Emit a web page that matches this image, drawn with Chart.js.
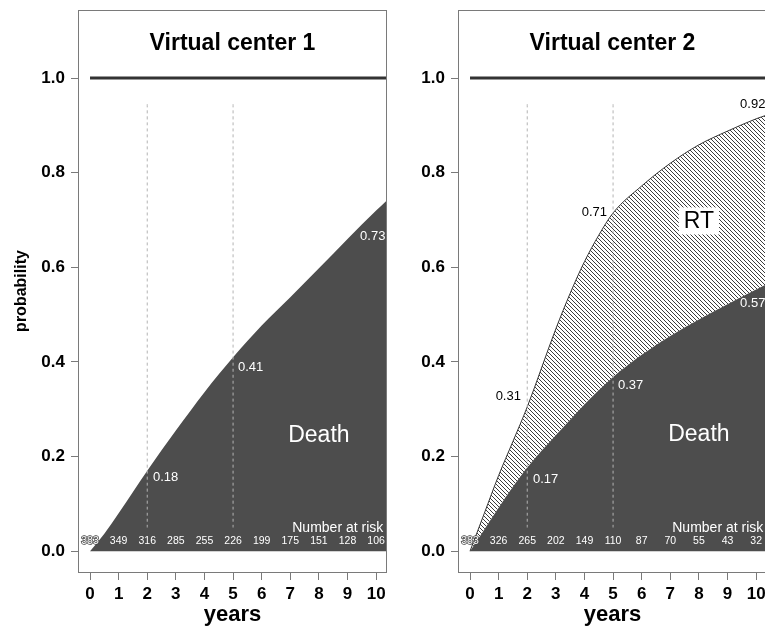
<!DOCTYPE html>
<html>
<head>
<meta charset="utf-8">
<script src="https://cdn.jsdelivr.net/npm/chart.js@4/dist/chart.umd.min.js"></script>
<style>
  html, body { margin: 0; padding: 0; background: #fff; overflow: hidden; width: 765px; height: 631px; }
  #c1 { position: absolute; left: 0; top: 0; }
  #c2 { position: absolute; left: 380px; top: 0; }
</style>
</head>
<body>
<canvas id="c1" width="390" height="631"></canvas>
<canvas id="c2" width="390" height="631"></canvas>
<script>
// ---------- data ----------
const years = [0, 0.5, 1, 1.5, 2, 3, 3.5, 4, 4.5, 5, 6, 7, 8, 9, 10, 10.38];
const center1Death = [0, 0.037, 0.08, 0.125, 0.17, 0.255, 0.296, 0.336, 0.374, 0.41, 0.477, 0.537, 0.598, 0.66, 0.72, 0.742];
const center2Death = [0, 0.046, 0.092, 0.136, 0.177, 0.245, 0.278, 0.31, 0.34, 0.368, 0.415, 0.455, 0.49, 0.522, 0.553, 0.565];
const center2DeathPlusRT = [0, 0.08, 0.16, 0.232, 0.305, 0.47, 0.545, 0.612, 0.668, 0.715, 0.772, 0.82, 0.859, 0.888, 0.914, 0.922];
const riskYears = [0, 1, 2, 3, 4, 5, 6, 7, 8, 9, 10];
const center1AtRisk = [383, 349, 316, 285, 255, 226, 199, 175, 151, 128, 106];
const center2AtRisk = [383, 326, 265, 202, 149, 110, 87, 70, 55, 43, 32];
const xTicks = [0, 1, 2, 3, 4, 5, 6, 7, 8, 9, 10];
const yTicks = [0, 0.2, 0.4, 0.6, 0.8, 1.0];
const refYears = [2, 5];          // dashed reference lines
const refRange = [0.05, 0.95];
const totalLine = [1, 1];         // horizontal line at probability 1
const totalLineX = [0, 10.38];

const FONT = '"Liberation Sans", Arial, Helvetica, sans-serif';
const DARK = '#4d4d4d';

function hatchPattern() {
  const s = 4;
  const c = document.createElement('canvas');
  c.width = s; c.height = s;
  const g = c.getContext('2d');
  g.fillStyle = '#ffffff';
  g.fillRect(0, 0, s, s);
  g.strokeStyle = '#3c3c3c';
  g.lineWidth = 1;
  g.beginPath();
  g.moveTo(-1, -1); g.lineTo(s + 1, s + 1);
  g.moveTo(-1, s - 1); g.lineTo(1, s + 1);
  g.moveTo(s - 1, -1); g.lineTo(s + 1, 1);
  g.stroke();
  return g.createPattern(c, 'repeat');
}

function pts(xs, ys) { return xs.map((x, i) => ({ x: x, y: ys[i] })); }

function refDatasets() {
  return refYears.map(yr => ({
    data: [{ x: yr, y: refRange[0] }, { x: yr, y: refRange[1] }],
    borderColor: '#b3b3b3', borderWidth: 1, borderDash: [3, 3],
    pointRadius: 0, fill: false, order: 0
  }));
}

function topLineDataset() {
  return {
    data: pts(totalLineX, totalLine),
    borderColor: '#333333', borderWidth: 3, pointRadius: 0, fill: false, order: 1
  };
}

function makeDecor(cfg) {
  return {
    id: 'decor',
    afterDraw(chart) {
      const ctx = chart.ctx;
      const a = chart.chartArea;
      const xs = chart.scales.x, ys = chart.scales.y;
      const px = v => xs.getPixelForValue(v);
      const py = v => ys.getPixelForValue(v);
      ctx.save();
      // box
      ctx.strokeStyle = '#7a7a7a';
      ctx.lineWidth = 1;
      ctx.strokeRect(a.left + 0.5, a.top + 0.5, a.right - a.left - 1, a.bottom - a.top);
      const cx = (a.left + a.right) / 2;
      // title
      ctx.fillStyle = '#000';
      ctx.textAlign = 'center';
      ctx.textBaseline = 'alphabetic';
      ctx.font = 'bold 23px ' + FONT;
      ctx.fillText(cfg.title, cx, 50);
      // x title
      ctx.font = 'bold 22px ' + FONT;
      ctx.fillText('years', cx, 621);
      // y title
      if (cfg.yTitle) {
        ctx.save();
        ctx.translate(26, (a.top + a.bottom) / 2);
        ctx.rotate(-Math.PI / 2);
        ctx.font = 'bold 16px ' + FONT;
        ctx.fillText(cfg.yTitle, 0, 0);
        ctx.restore();
      }
      // value labels
      ctx.textBaseline = 'middle';
      cfg.labels.forEach(l => {
        ctx.font = l.font;
        ctx.textAlign = l.align;
        if (l.bg) {
          const w = ctx.measureText(l.text).width + 10;
          ctx.fillStyle = '#fff';
          ctx.fillRect(px(l.x) - w / 2, py(l.y) - 14, w, 27);
        }
        ctx.fillStyle = l.color;
        ctx.fillText(l.text, px(l.x), py(l.y));
      });
      // number at risk
      ctx.font = '14px ' + FONT;
      ctx.textAlign = 'right';
      ctx.fillStyle = '#fff';
      ctx.fillText('Number at risk', px(10.25), py(0.049));
      ctx.font = '10.5px ' + FONT;
      ctx.textAlign = 'center';
      ctx.lineWidth = 1.5;
      ctx.strokeStyle = '#444';
      cfg.risk.forEach((n, i) => {
        const x = px(riskYears[i]), y = py(0.021);
        if (i === 0) ctx.strokeText(String(n), x, y);
        ctx.fillText(String(n), x, y);
      });
      ctx.restore();
    }
  };
}

function zeroPad(s) { s.paddingTop = 0; s.paddingBottom = 0; s.paddingLeft = 0; s.paddingRight = 0; }

function scalesCfg(showYLabels) {
  return {
    x: {
      type: 'linear', min: -0.42, max: 10.38,
      afterBuildTicks: s => { s.ticks = xTicks.map(v => ({ value: v })); },
      afterFit: s => { s.height = 59; zeroPad(s); },
      border: { display: false },
      grid: { drawOnChartArea: false, drawTicks: true, tickLength: 8, color: '#7a7a7a', tickColor: '#7a7a7a' },
      ticks: { color: '#000', font: { family: FONT, size: 17, weight: 'bold' }, padding: 4, maxRotation: 0, autoSkip: false, callback: v => String(v) }
    },
    y: {
      type: 'linear', min: -0.044, max: 1.144,
      afterBuildTicks: s => { s.ticks = yTicks.map(v => ({ value: v })); },
      afterFit: s => { s.width = 78; zeroPad(s); },
      border: { display: false },
      grid: { drawOnChartArea: false, drawTicks: true, tickLength: 7, color: '#7a7a7a', tickColor: '#7a7a7a' },
      ticks: { display: showYLabels, color: '#000', font: { family: FONT, size: 17, weight: 'bold' }, padding: 6, callback: v => Number(v).toFixed(1) }
    }
  };
}

const baseOpts = (showY) => ({
  responsive: false,
  animation: false,
  layout: { padding: { top: 10, right: 3, left: 0, bottom: 0 } },
  plugins: { legend: { display: false }, tooltip: { enabled: false } },
  elements: { line: { cubicInterpolationMode: 'monotone' } },
  scales: scalesCfg(showY)
});

const lbl = (text, x, y, align, color, size, bg) => ({ text, x, y, align, color, font: size + 'px ' + FONT, bg: !!bg });

// ---------- chart 1 ----------
new Chart(document.getElementById('c1'), {
  type: 'line',
  data: {
    datasets: [
      ...refDatasets(),
      topLineDataset(),
      {
        label: 'Death', data: pts(years, center1Death),
        borderWidth: 0, borderColor: DARK, backgroundColor: DARK,
        pointRadius: 0, fill: 'origin', order: 2
      }
    ]
  },
  options: baseOpts(true),
  plugins: [makeDecor({
    title: 'Virtual center 1', yTitle: 'probability', risk: center1AtRisk,
    labels: [
      lbl('0.18', 2.2, 0.155, 'left', '#fff', 13),
      lbl('0.41', 5.17, 0.388, 'left', '#fff', 13),
      lbl('0.73', 9.44, 0.665, 'left', '#fff', 13),
      lbl('Death', 8.0, 0.245, 'center', '#fff', 23)
    ]
  })]
});

// ---------- chart 2 ----------
new Chart(document.getElementById('c2'), {
  type: 'line',
  data: {
    datasets: [
      ...refDatasets(),
      topLineDataset(),
      {
        label: 'Death', data: pts(years, center2Death),
        borderWidth: 0, borderColor: DARK, backgroundColor: DARK,
        pointRadius: 0, fill: 'origin', order: 2
      },
      {
        label: 'RT', data: pts(years, center2DeathPlusRT),
        borderWidth: 1, borderColor: '#333', backgroundColor: hatchPattern(),
        pointRadius: 0, fill: 3, order: 3
      }
    ]
  },
  options: baseOpts(true),
  plugins: [makeDecor({
    title: 'Virtual center 2', yTitle: null, risk: center2AtRisk,
    labels: [
      lbl('0.31', 1.78, 0.327, 'right', '#000', 13),
      lbl('0.17', 2.2, 0.151, 'left', '#fff', 13),
      lbl('0.37', 5.17, 0.351, 'left', '#fff', 13),
      lbl('0.57', 9.44, 0.524, 'left', '#fff', 13),
      lbl('0.71', 4.79, 0.717, 'right', '#000', 13),
      lbl('0.92', 9.44, 0.945, 'left', '#000', 13),
      lbl('RT', 8.0, 0.697, 'center', '#000', 23, true),
      lbl('Death', 8.0, 0.247, 'center', '#fff', 23)
    ]
  })]
});
</script>
</body>
</html>
